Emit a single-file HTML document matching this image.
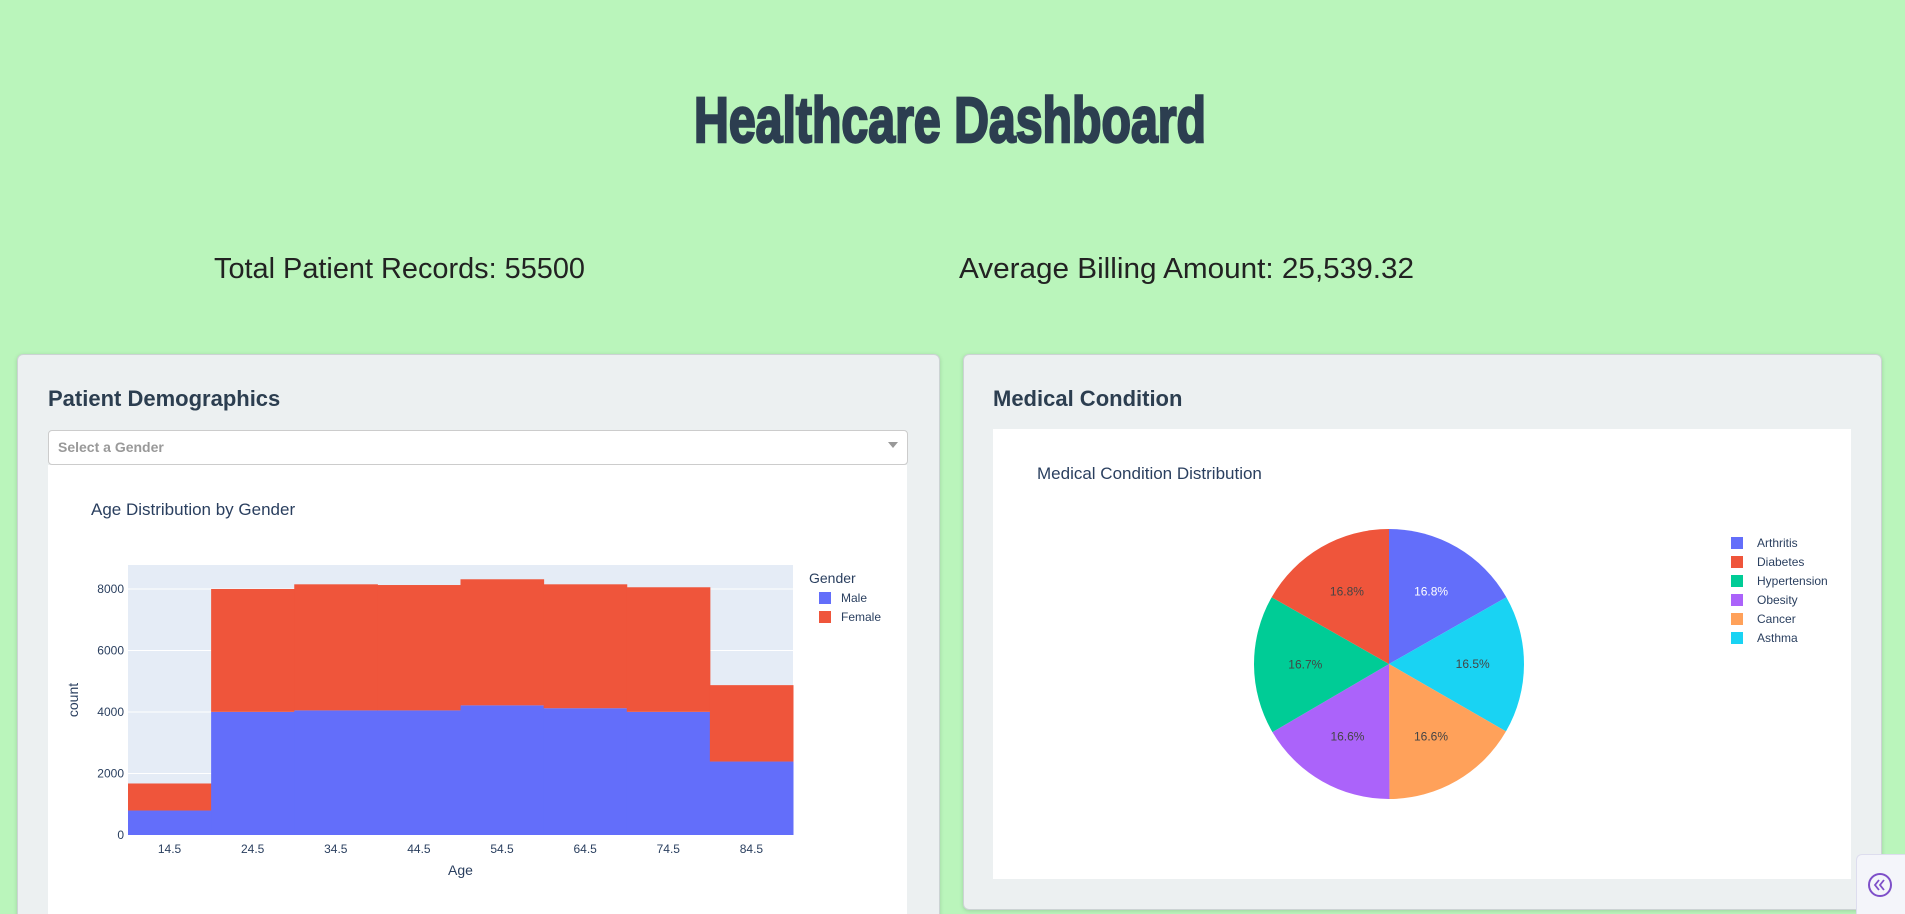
<!DOCTYPE html>
<html><head><meta charset="utf-8">
<style>
html,body{margin:0;padding:0;width:1905px;height:914px;max-height:914px;overflow:hidden;background:#baf5bb;font-family:"Liberation Sans",sans-serif;position:relative;}
.abs{position:absolute;}
#title{left:694px;top:88px;font-family:"Liberation Sans Narrow","Liberation Sans",sans-serif;font-weight:bold;font-size:64px;color:#2c3e50;white-space:nowrap;transform-origin:0 0;-webkit-text-stroke:2.5px #2c3e50;line-height:64px;}
.stat{font-size:29px;color:#222;white-space:nowrap;transform-origin:0 0;line-height:32px;}
.card{background:#ecf0f1;border:1px solid #ccd3d4;border-radius:6px;box-shadow:0 1px 4px rgba(0,0,0,0.15);}
.h{font-family:"Liberation Sans Narrow","Liberation Sans",sans-serif;font-weight:bold;font-size:22px;color:#2c3e50;}
</style></head><body>
<div id="title" class="abs">Healthcare Dashboard</div>
<div id="stat1" class="abs stat" style="left:214px;top:253px">Total Patient Records: 55500</div>
<div id="stat2" class="abs stat" style="left:959px;top:253px">Average Billing Amount: 25,539.32</div>

<div class="abs card" style="left:17px;top:354px;width:921px;height:570px;border-bottom:none;border-radius:6px 6px 0 0"></div>
<div class="abs h" style="left:48px;top:386px">Patient Demographics</div>
<div class="abs" style="left:48px;top:430px;width:858px;height:33px;background:#fff;border:1px solid #ccc;border-radius:4px">
<span class="abs" style="left:9px;top:8px;font-size:14px;font-weight:bold;color:#999;font-family:'Liberation Sans Narrow','Liberation Sans',sans-serif">Select a Gender</span>
<span class="abs" style="right:9px;top:11px;width:0;height:0;border-left:5px solid transparent;border-right:5px solid transparent;border-top:6px solid #999"></span>
</div>
<svg class="abs" id="hist" style="left:48px;top:465px" width="859" height="449"></svg>

<div class="abs card" style="left:963px;top:354px;width:917px;height:554px"></div>
<div class="abs h" style="left:993px;top:386px">Medical Condition</div>
<svg class="abs" id="pie" style="left:993px;top:429px" width="858" height="450"></svg>

<div class="abs" style="left:1856px;top:854px;width:49px;height:60px;background:#f4f5fa;border:1px solid #dde;border-right:none;border-bottom:none;border-radius:6px 0 0 0">
<svg width="49" height="60"><circle cx="23" cy="30" r="11" fill="none" stroke="#7e4fc9" stroke-width="2"/><path d="M22 25 L18 30 L22 35 M27 25 L23 30 L27 35" fill="none" stroke="#7e4fc9" stroke-width="1.8"/></svg>
</div>

<script>
const ageTicks=["14.5","24.5","34.5","44.5","54.5","64.5","74.5","84.5"];
const maleCounts=[796,4004,4052,4052,4216,4123,4004,2389];
const femaleCounts=[879,3996,4100,4077,4100,4029,4052,2484];
const yTicks=[0,2000,4000,6000,8000];
const conditions=["Arthritis","Asthma","Cancer","Obesity","Hypertension","Diabetes"];
const conditionCounts=[9308,9185,9227,9231,9245,9304];
const legendOrder=["Arthritis","Diabetes","Hypertension","Obesity","Cancer","Asthma"];
const condColors={Arthritis:"#636efa",Diabetes:"#ef553b",Hypertension:"#00cc96",Obesity:"#ab63fa",Cancer:"#ffa15a",Asthma:"#19d3f3"};

function fit(id,w){const e=document.getElementById(id);const r=e.getBoundingClientRect().width;e.style.transform='scaleX('+(w/r)+')';}
fit('title',512);fit('stat1',371);fit('stat2',455);

const NS="http://www.w3.org/2000/svg";
function mk(p,t,a,txt){const e=document.createElementNS(NS,t);for(const k in a)e.setAttribute(k,a[k]);if(txt!==undefined)e.textContent=txt;p.appendChild(e);return e;}
// histogram
const H=document.getElementById('hist');
const px0=80,px1=745,py0=370,py1=100,ymax=8780;
const Y=v=>py0-(v/ymax)*(py0-py1);
const bw=(px1-px0)/ageTicks.length;
const X=i=>px0+i*bw;
let e=mk(H,'rect',{x:0,y:0,width:859,height:449,fill:'#fff'});

e=mk(H,'rect',{x:px0,y:py1,width:px1-px0,height:py0-py1,fill:'#e5ecf6'});

yTicks.forEach(t=>{if(t>0){e=mk(H,'line',{x1:px0,x2:px1,y1:Y(t),y2:Y(t),stroke:'#fff','stroke-width':1});}
 e=mk(H,'text',{x:px0-4,y:Y(t)+4,'text-anchor':'end','font-size':12,fill:'#2a3f5f'},String(t));});
ageTicks.forEach((t,i)=>{
 e=mk(H,'rect',{x:X(i),y:Y(maleCounts[i]),width:bw+0.5,height:py0-Y(maleCounts[i]),fill:'#636efa'});
 
 const tot=maleCounts[i]+femaleCounts[i];
 e=mk(H,'rect',{x:X(i),y:Y(tot),width:bw+0.5,height:Y(maleCounts[i])-Y(tot),fill:'#ef553b'});
 
 e=mk(H,'text',{x:X(i)+bw/2,y:py0+18,'text-anchor':'middle','font-size':12,fill:'#2a3f5f'},t);
 
});
e=mk(H,'text',{x:43,y:50,'font-size':17,fill:'#2a3f5f'},'Age Distribution by Gender');
e=mk(H,'text',{x:(px0+px1)/2,y:410,'text-anchor':'middle','font-size':14,fill:'#2a3f5f'},'Age');
e=mk(H,'text',{x:0,y:0,'text-anchor':'middle','font-size':14,fill:'#2a3f5f',transform:'translate(30,235) rotate(-90)'},'count');
e=mk(H,'text',{x:761,y:118,'font-size':14,fill:'#2a3f5f'},'Gender');
[['Male','#636efa'],['Female','#ef553b']].forEach((g,i)=>{
 e=mk(H,'rect',{x:771,y:127+i*19,width:12,height:12,fill:g[1]});
 e=mk(H,'text',{x:793,y:137+i*19,'font-size':12,fill:'#2a3f5f'},g[0]);
});
// pie
const P=document.getElementById('pie');
e=mk(P,'rect',{x:0,y:0,width:858,height:450,fill:'#fff'});
e=mk(P,'text',{x:44,y:50,'font-size':17,fill:'#2a3f5f'},'Medical Condition Distribution');
const cx=396,cy=235,r=135;
const total=conditionCounts.reduce((a,b)=>a+b,0);
let ang=0;
conditions.forEach((c,i)=>{
 const frac=conditionCounts[i]/total;const a0=ang,a1=ang+frac*2*Math.PI;ang=a1;
 const pt=a=>[cx+r*Math.sin(a),cy-r*Math.cos(a)];
 const [x0,y0]=pt(a0),[x1,y1]=pt(a1);
 e=mk(P,'path',{d:`M${cx},${cy}L${x0},${y0}A${r},${r} 0 ${frac>0.5?1:0} 1 ${x1},${y1}Z`,fill:condColors[c]});
 
 const am=(a0+a1)/2;
 e=mk(P,'text',{x:cx+0.62*r*Math.sin(am),y:cy-0.62*r*Math.cos(am)+4,'text-anchor':'middle','font-size':12,fill:c==='Arthritis'?'#fff':'#444'},(frac*100).toFixed(1)+'%');
 
});
legendOrder.forEach((c,i)=>{
 e=mk(P,'rect',{x:738,y:108+i*19,width:12,height:12,fill:condColors[c]});
 e=mk(P,'text',{x:764,y:118+i*19,'font-size':12,fill:'#2a3f5f'},c);
});
</script>
</body></html>
